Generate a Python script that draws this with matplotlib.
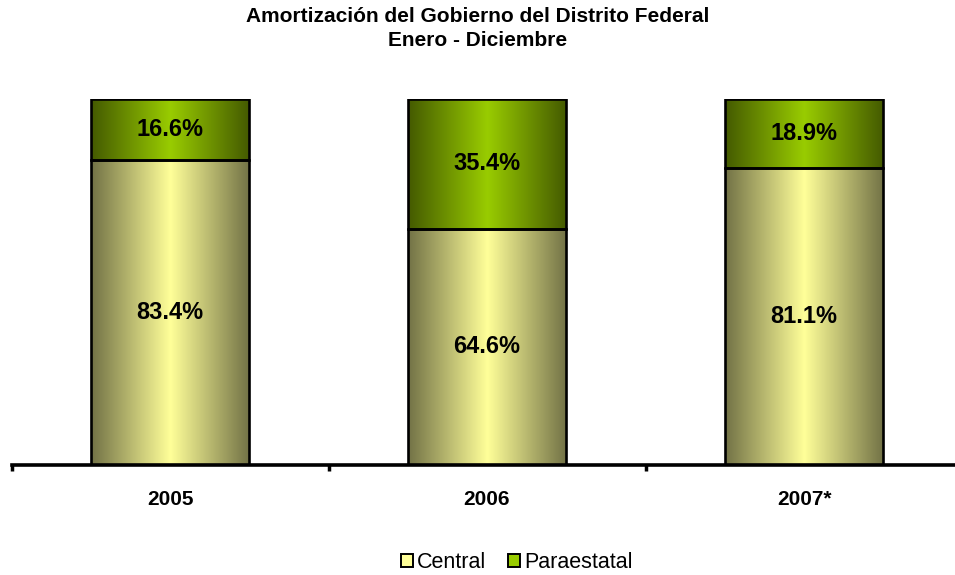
import numpy as np
import matplotlib
matplotlib.use("Agg")
import matplotlib.pyplot as plt
from matplotlib.patches import Patch
from matplotlib.colors import to_rgb

years = ["2005", "2006", "2007*"]
central = [83.4, 64.6, 81.1]
paraestatal = [16.6, 35.4, 18.9]
series_names = ["Central", "Paraestatal"]
title_lines = ["Amortización del Gobierno del Distrito Federal", "Enero - Diciembre"]

plt.rcParams['font.family'] = ['Liberation Sans', 'DejaVu Sans']

light_c, dark_c = "#ffff99", "#727246"
light_p, dark_p = "#99cc00", "#445a00"


def gradient_fill(ax, bar, light, dark):
    # horizontal shading: dark at edges, light in the middle
    t = np.abs(np.linspace(-1, 1, 200))
    l = np.array(to_rgb(light))
    d = np.array(to_rgb(dark))
    cols = l[None, :] * (1 - t[:, None]) + d[None, :] * t[:, None]
    x0, y0 = bar.get_x(), bar.get_y()
    ax.imshow(cols[None, :, :], extent=(x0, x0 + bar.get_width(), y0, y0 + bar.get_height()),
              aspect='auto', zorder=1, interpolation='bilinear')


fig = plt.figure(figsize=(9.55, 5.75), dpi=100)
ax = fig.add_axes([11.5 / 955, 1 - 465 / 575, 951 / 955, 366 / 575])

x = np.arange(len(years))
b1 = ax.bar(x, central, width=0.5, facecolor='none', edgecolor='black', linewidth=1.9, zorder=2)
b2 = ax.bar(x, paraestatal, width=0.5, bottom=central, facecolor='none', edgecolor='black',
            linewidth=1.9, zorder=2)

for bar in b1:
    gradient_fill(ax, bar, light_c, dark_c)
for bar in b2:
    gradient_fill(ax, bar, light_p, dark_p)

for bars, vals in ((b1, central), (b2, paraestatal)):
    for bar, v in zip(bars, vals):
        ax.text(bar.get_x() + bar.get_width() / 2, bar.get_y() + bar.get_height() / 2,
                f"{v:.1f}%", ha='center', va='center', fontsize=17, fontweight='bold', zorder=3)

ax.set_xlim(-0.5, 2.5)
ax.set_ylim(0, 100)
for s in ['top', 'right', 'left']:
    ax.spines[s].set_visible(False)
ax.spines['bottom'].set_linewidth(2.6)
ax.set_yticks([])
ax.set_xticks([-0.5, 0.5, 1.5, 2.5])
ax.set_xticklabels([])
ax.tick_params(axis='x', which='major', length=4, width=2.5, direction='out')
ax.set_xticks(x, years, minor=True)
ax.tick_params(axis='x', which='minor', length=0, pad=18)
for lab in ax.get_xticklabels(minor=True):
    lab.set_fontsize(15)
    lab.set_fontweight('bold')

fig.text(0.5, 1 - 22 / 575, title_lines[0], ha='center', va='baseline', fontsize=15, fontweight='bold')
fig.text(0.5, 1 - 45.7 / 575, title_lines[1], ha='center', va='baseline', fontsize=15, fontweight='bold')

handles = [Patch(facecolor=light_c, edgecolor='black', linewidth=1.4),
           Patch(facecolor=light_p, edgecolor='black', linewidth=1.4)]
fig.legend(handles, series_names, loc='center', bbox_to_anchor=(517 / 955, 1 - 563 / 575),
           ncol=2, frameon=False, fontsize=15.5, handlelength=0.55, handleheight=0.55,
           handletextpad=0.2, columnspacing=1.0)

fig.savefig("out.png", dpi=100)
